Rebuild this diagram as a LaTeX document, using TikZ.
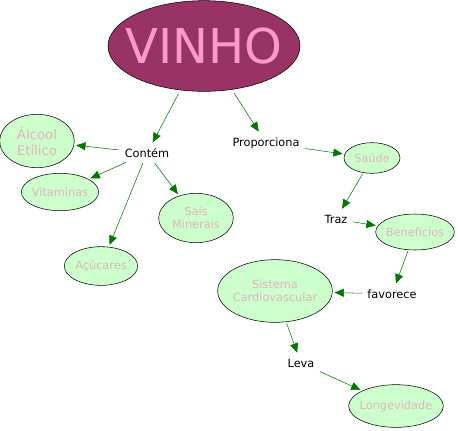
\documentclass[tikz,border=0pt]{standalone}
\usepackage{fontspec}
\setmainfont{DejaVu Sans}
\usetikzlibrary{shapes.geometric,arrows.meta}
\definecolor{wine}{RGB}{153,51,102}
\definecolor{winetext}{RGB}{255,153,204}
\definecolor{leaf}{RGB}{204,255,204}
\definecolor{leaftext}{RGB}{225,180,190}
\definecolor{linkgreen}{RGB}{0,120,0}

\begin{document}
\begin{tikzpicture}[x=0.75pt, y=-0.75pt,
                    concept/.style={ellipse, draw=black, fill=leaf, text=leaftext,
                                    inner xsep=-5pt, inner ysep=0pt, align=center,
                                    font=\fontsize{8.5}{10}\selectfont},
                    linking/.style={inner sep=3pt, font=\fontsize{8.5}{10}\selectfont},
                    link/.style={draw=linkgreen, -{Triangle[length=7pt,width=6pt]},
                                 shorten <=1pt, shorten >=1.5pt}]
  \useasboundingbox (0,0) rectangle (458,430);
  \node[ellipse, draw=black, fill=wine, text=winetext, inner xsep=-12pt, inner ysep=0pt,
        minimum width=144pt, minimum height=68pt,
        font=\fontsize{36}{40}\selectfont] (vinho) at (204,46) {VINHO};

  \node[linking] (contem) at (147,153) {Contém};
  \node[linking] (proporciona) at (266,143) {Proporciona};
  \node[linking] (traz) at (336,219) {Traz};
  \node[linking] (favorece) at (392,294) {favorece};
  \node[linking] (leva) at (301,363) {Leva};

  \node[concept, minimum width=56pt, minimum height=40pt,
        font=\fontsize{10}{12}\selectfont] (alcool) at (37,141) {Álcool\\Etílico};
  \node[concept, minimum width=58pt, minimum height=28pt] (vitaminas) at (60,192) {Vitaminas};
  \node[concept, minimum width=56pt, minimum height=37pt] (sais) at (196,218) {Sais\\Minerais};
  \node[concept, minimum width=55pt, minimum height=29pt] (acucares) at (101,266) {Açúcares};
  \node[concept, minimum width=42pt, minimum height=23pt] (saude) at (372,158) {Saúde};
  \node[concept, minimum width=59pt, minimum height=27pt] (beneficios) at (415,232) {Benefícios};
  \node[concept, minimum width=86pt, minimum height=47pt] (sistema) at (275,291) {Sistema\\Cardiovascular};
  \node[concept, minimum width=71pt, minimum height=32pt] (longevidade) at (396,406) {Longevidade};

  \draw[link, shorten <=3pt] (vinho) -- (contem);
  \draw[link, shorten <=3pt] (vinho) -- (proporciona);
  \draw[link] (contem) -- (alcool);
  \draw[link] (contem) -- (vitaminas);
  \draw[link] (contem) -- (acucares);
  \draw[link] (contem) -- (sais);
  \draw[link] (proporciona) -- (saude);
  \draw[link] (saude) -- (traz);
  \draw[link] (traz) -- (beneficios);
  \draw[link] (beneficios) -- (favorece);
  \draw[link] (favorece) -- (sistema);
  \draw[link] (sistema) -- (leva);
  \draw[link] (leva) -- (longevidade);
\end{tikzpicture}
\end{document}
